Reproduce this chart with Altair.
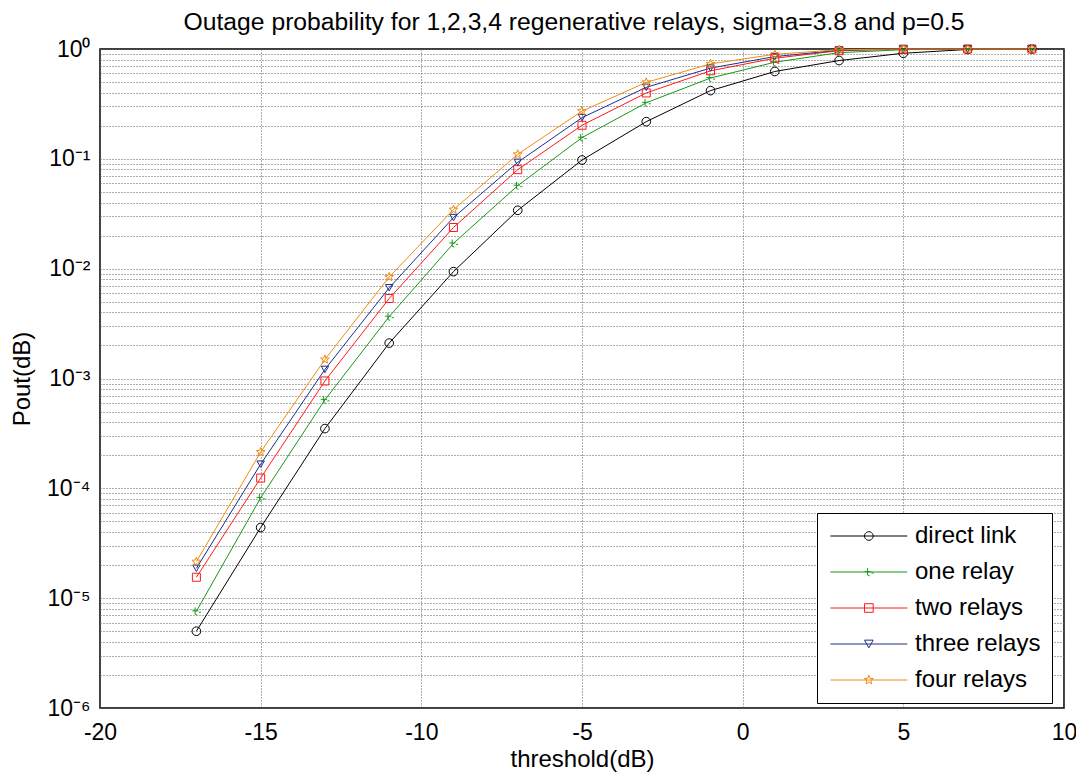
import math
import altair as alt
import pandas as pd

# ---------------- data ----------------
threshold = [-17, -15, -13, -11, -9, -7, -5, -3, -1, 1, 3, 5, 7, 9]
direct_link = [5.0e-6, 4.4e-5, 3.5e-4, 2.1e-3, 9.4e-3, 3.4e-2, 9.75e-2, 0.218, 0.418, 0.624, 0.785, 0.915, 0.99, 0.999]
one_relay = [7.6e-6, 8.2e-5, 6.4e-4, 3.66e-3, 1.70e-2, 5.7e-2, 0.156, 0.324, 0.544, 0.758, 0.926, 0.985, 0.999, 1.0]
two_relays = [1.55e-5, 1.24e-4, 9.5e-4, 5.35e-3, 2.37e-2, 7.97e-2, 0.202, 0.398, 0.633, 0.824, 0.965, 0.997, 1.0, 1.0]
three_relays = [1.87e-5, 1.66e-4, 1.21e-3, 6.7e-3, 2.92e-2, 9.3e-2, 0.237, 0.448, 0.67, 0.853, 0.975, 0.998, 1.0, 1.0]
four_relays = [2.15e-5, 2.14e-4, 1.49e-3, 8.4e-3, 3.45e-2, 0.110, 0.272, 0.497, 0.732, 0.895, 0.985, 0.999, 1.0, 1.0]

series_names = ["direct link", "one relay", "two relays", "three relays", "four relays"]
series_values = [direct_link, one_relay, two_relays, three_relays, four_relays]
colors = ["#000000", "#159a15", "#ff1a1a", "#1c2f8c", "#f08c10"]

x_ticks = [-20, -15, -10, -5, 0, 5, 10]
y_exp_labels = ["10\u2070", "10\u207b\u00b9", "10\u207b\u00b2", "10\u207b\u00b3",
                "10\u207b\u2074", "10\u207b\u2075", "10\u207b\u2076"]

title_text = "Outage probability for 1,2,3,4 regenerative relays, sigma=3.8 and p=0.5"

rows = []
for name, vals in zip(series_names, series_values):
    for xv, yv in zip(threshold, vals):
        rows.append({"threshold": xv, "pout": yv, "series": name})
df = pd.DataFrame(rows)

# minor + major ticks for the log axis
y_ticks = [1.0]
for e in range(-6, 0):
    for k in range(1, 10):
        y_ticks.append(round(k * 10 ** e, 12))

FONT = "Liberation Sans"
GRID_COLOR = "#5a5a5a"
GRID_DASH = [1, 2]


# ---------------- marker shapes ----------------
def fmt(v):
    return f"{v:.3f}"


def poly(points):
    return "M" + "L".join(f"{fmt(px)},{fmt(py)}" for px, py in points) + "Z"


def circle_pts(cx, cy, r, n=20):
    return [(cx + r * math.cos(2 * math.pi * k / n), cy + r * math.sin(2 * math.pi * k / n)) for k in range(n)]


def star_pts(cx, cy, r, n=5, inner=0.42):
    pts = []
    for k in range(2 * n):
        rr = r if k % 2 == 0 else r * inner
        a = -math.pi / 2 + math.pi * k / n
        pts.append((cx + rr * math.cos(a), cy + rr * math.sin(a)))
    return pts


def tglyph(cx, cy, s):
    return (f"M{fmt(cx - 1.0 * s)},{fmt(cy - 0.1 * s)}L{fmt(cx + 0.5 * s)},{fmt(cy - 0.1 * s)}"
            f"M{fmt(cx - 0.3 * s)},{fmt(cy - 0.9 * s)}L{fmt(cx - 0.3 * s)},{fmt(cy + 0.7 * s)}L{fmt(cx + 0.2 * s)},{fmt(cy + 0.9 * s)}"
            f"M{fmt(cx + 0.6 * s)},{fmt(cy + 0.25 * s)}L{fmt(cx + 1.1 * s)},{fmt(cy + 0.25 * s)}")


plot_shapes = [
    "circle",
    tglyph(0, 0, 1.0),
    "square",
    "triangle-down",
    poly(star_pts(0, 0, 1.1)),
]
plot_sizes = [75, 70, 64, 55, 70]

# legend symbols: a line segment with the marker in the middle
line_seg = "M-1,0L7,0"
legend_shapes = [
    line_seg + poly(circle_pts(3, 0, 0.45)),
    line_seg + tglyph(3, 0, 0.45),
    line_seg + poly([(2.55, -0.45), (3.45, -0.45), (3.45, 0.45), (2.55, 0.45)]),
    line_seg + poly([(2.55, -0.4), (3.45, -0.4), (3.0, 0.4)]),
    line_seg + poly(star_pts(3, 0, 0.5)),
]

color_scale = alt.Scale(domain=series_names, range=colors)

legend_def = alt.Legend(
    title=None,
    orient="none",
    legendX=717,
    legendY=464,
    padding=11,
    labelFont=FONT,
    labelFontSize=24,
    labelColor="black",
    labelOffset=63,
    labelLimit=300,
    rowPadding=12,
    symbolSize=370,
    symbolStrokeWidth=1,
    symbolOpacity=1,
    symbolFillColor="transparent",
    strokeColor="black",
    fillColor="white",
)

x_enc = alt.X(
    "threshold:Q",
    scale=alt.Scale(domain=[-20, 10], nice=False, zero=False),
    axis=alt.Axis(
        values=x_ticks,
        labelExpr="toString(datum.value)",
        title="threshold(dB)",
        titleFontSize=24,
        titleFont=FONT,
        titleFontWeight="normal",
        titleColor="black",
        titlePadding=3,
        labelFontSize=23,
        labelFont=FONT,
        labelColor="black",
        labelPadding=13,
        grid=True,
        gridDash=GRID_DASH,
        gridColor=GRID_COLOR,
        gridOpacity=1,
        ticks=False,
        domain=False,
        labelFlush=False,
    ),
)

sup_list = "[" + ",".join("'" + s + "'" for s in y_exp_labels) + "]"
y_label_expr = (
    "abs(log(datum.value)/LN10 - round(log(datum.value)/LN10)) < 0.001 ? "
    + sup_list + "[-round(log(datum.value)/LN10)] : ''"
)

y_enc = alt.Y(
    "pout:Q",
    scale=alt.Scale(type="log", domain=[1e-6, 1], nice=False),
    axis=alt.Axis(
        values=y_ticks,
        labelExpr=y_label_expr,
        labelOverlap=False,
        title="Pout(dB)",
        titleFontSize=24,
        titleFont=FONT,
        titleFontWeight="normal",
        titleColor="black",
        titlePadding=12,
        labelFontSize=23,
        labelFont=FONT,
        labelColor="black",
        labelPadding=10,
        grid=True,
        gridDash=GRID_DASH,
        gridColor=GRID_COLOR,
        gridOpacity=1,
        ticks=False,
        domain=False,
    ),
)

base = alt.Chart(df)

lines = base.mark_line(strokeWidth=1).encode(
    x=x_enc,
    y=y_enc,
    color=alt.Color("series:N", scale=color_scale, legend=legend_def),
    detail="series:N",
    order="threshold:Q",
)

point_layers = []
for name, shp, sz in zip(series_names, plot_shapes, plot_sizes):
    point_layers.append(
        base.transform_filter(alt.datum.series == name)
        .mark_point(shape=shp, size=sz, filled=False, strokeWidth=1, opacity=1)
        .encode(
            x="threshold:Q",
            y="pout:Q",
            color=alt.Color("series:N", scale=color_scale, legend=legend_def),
        )
    )

legend_layer = base.mark_point(filled=False, opacity=0, strokeWidth=1).encode(
    x="threshold:Q",
    y="pout:Q",
    color=alt.Color("series:N", scale=color_scale, legend=legend_def),
    shape=alt.Shape("series:N", scale=alt.Scale(domain=series_names, range=legend_shapes), legend=legend_def),
)

chart = (
    alt.layer(lines, *point_layers, legend_layer)
    .properties(
        width=964,
        height=659,
        autosize=alt.AutoSizeParams(type="none"),
        padding={"left": 92, "top": 41, "right": 12, "bottom": 66},
        title=alt.Title(
            text=title_text,
            font=FONT,
            fontSize=24.7,
            fontWeight="normal",
            color="black",
            anchor="middle",
            frame="group",
            offset=3,
            dx=-8,
        ),
        background="white",
    )
    .configure_view(stroke="black", strokeWidth=1.5)
)

chart.save("out.html", embed_options={"renderer": "svg", "actions": False})
